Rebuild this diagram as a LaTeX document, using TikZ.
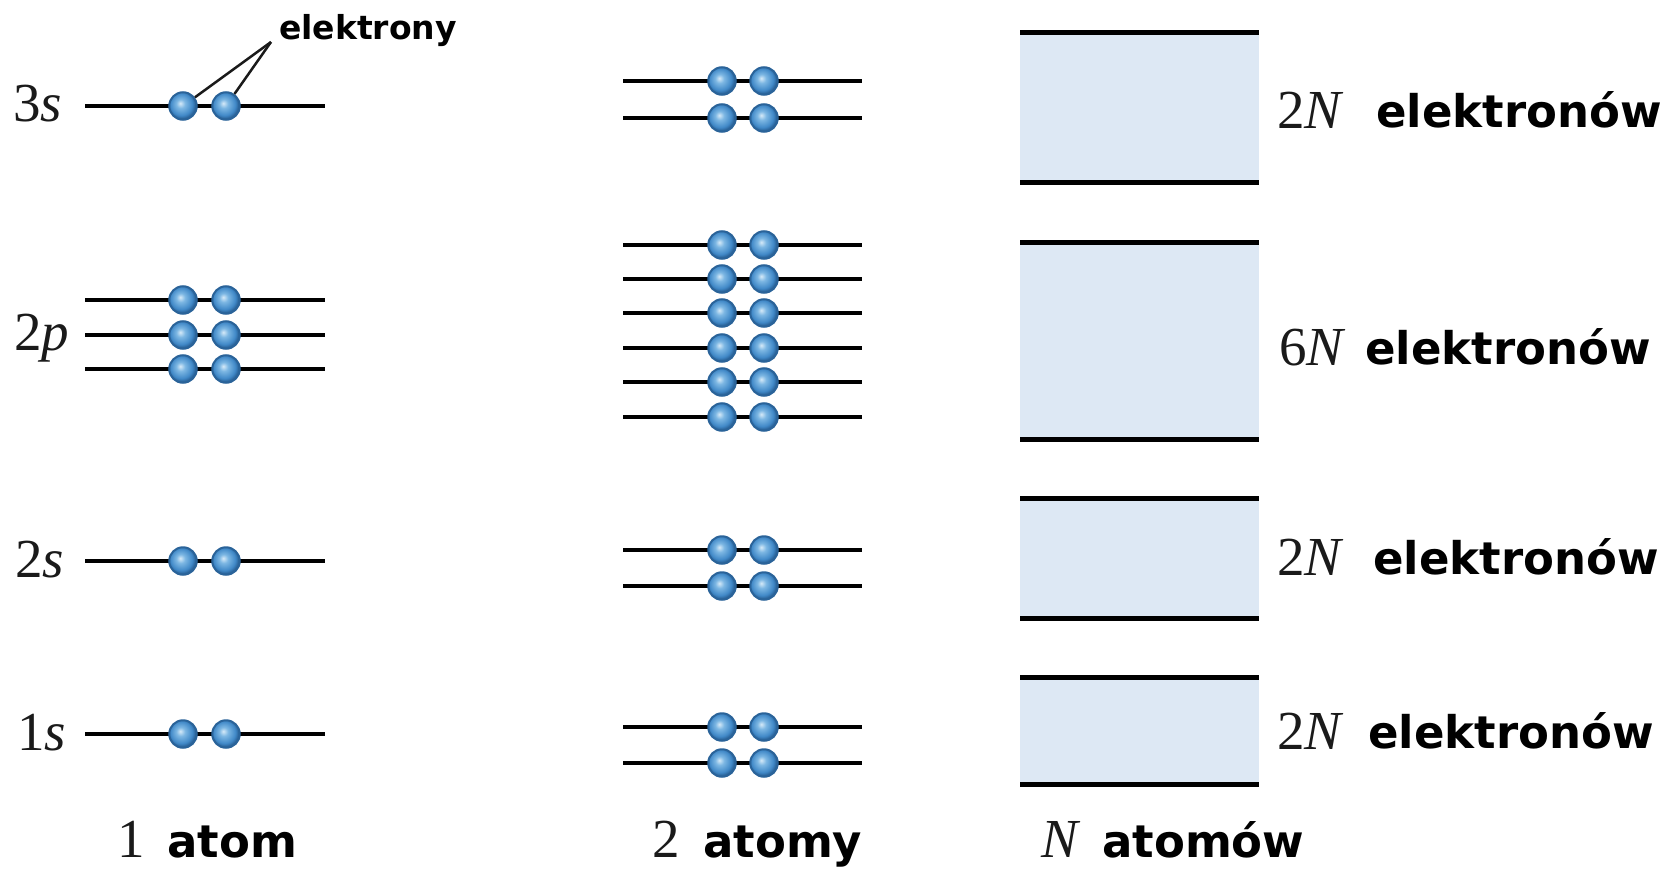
\documentclass[tikz,border=0pt]{standalone}
\usepackage{fontspec}
\setmainfont{Liberation Serif}
\newfontfamily\labfont{DejaVu Sans}
\definecolor{ehi}{HTML}{D6EAF8}
\definecolor{emid}{HTML}{7DB7E3}
\definecolor{eblue}{HTML}{4189C8}
\definecolor{edark}{HTML}{2A6399}
\definecolor{bandfill}{HTML}{DDE8F4}
\definecolor{ink}{HTML}{1A1A1A}
\pgfdeclareradialshading{electronshade}{\pgfpoint{-5bp}{5bp}}{%
  color(0bp)=(ehi); color(8bp)=(emid); color(20bp)=(eblue);
  color(25bp)=(edark); color(50bp)=(edark)}
\begin{document}
\begin{tikzpicture}[x=1pt,y=-1pt,
  level/.style={line width=4.8pt, draw=black},
  bandline/.style={line width=5pt, draw=black},
  electron/.style={circle, minimum size=27.5pt, inner sep=0pt,
    shading=electronshade, draw=edark, line width=2pt},
  pointer/.style={line width=2.5pt, draw=ink},
  serif/.style={font=\fontsize{55}{60}\selectfont, text=ink, inner sep=0pt},
  word/.style={font=\labfont\bfseries\fontsize{45}{50}\selectfont, text=black, inner sep=0pt},
  smallword/.style={font=\labfont\bfseries\fontsize{33}{36}\selectfont, text=black, inner sep=0pt}]
\useasboundingbox (0,0) rectangle (1669,869);

% one atom: single levels with two electrons each
\foreach \y/\n in {106/sthree, 300/pa, 335/pb, 369/pc, 561/stwo, 734/sone}{
  \draw[level] (85,\y) -- (325,\y);
  \node[electron] (one-\n-a) at (183,\y) {};
  \node[electron] (one-\n-b) at (226,\y) {};
}
\node[serif, anchor=base west] (lab3s) at (13,122) {3\textit{s}};
\node[serif, anchor=base west] (lab2p) at (14,350) {2\textit{p}};
\node[serif, anchor=base west] (lab2s) at (15,577) {2\textit{s}};
\node[serif, anchor=base west] (lab1s) at (17,750) {1\textit{s}};

% label pointing at the 3s electrons
\node[smallword, anchor=base west] (elabel) at (279,40) {elektrony};
\coordinate (tip) at (271,42);
\draw[pointer] (tip) -- (one-sthree-a);
\draw[pointer] (tip) -- (one-sthree-b);

% two atoms: each level splits in two
\foreach \y/\n in {81/a, 118/b, 245/c, 279/d, 313/e, 348/f, 382/g, 417/h,
                   550/i, 586/j, 727/k, 763/l}{
  \draw[level] (623,\y) -- (862,\y);
  \node[electron] (two-\n-a) at (722,\y) {};
  \node[electron] (two-\n-b) at (764,\y) {};
}

% N atoms: bands
\foreach \t/\b in {33/183, 242/439, 498/618, 677/784}{
  \fill[bandfill] (1020,\t) rectangle (1259,\b);
  \draw[bandline] (1020,\t) -- (1259,\t);
  \draw[bandline] (1020,\b) -- (1259,\b);
}
\node[serif, anchor=base west] (n1) at (1277,129) {2\textit{N}};
\node[word, anchor=base west] (w1) at (1376,128) {elektronów};
\node[serif, anchor=base west] (n2) at (1279,365) {6\textit{N}};
\node[word, anchor=base west] (w2) at (1365,364) {elektronów};
\node[serif, anchor=base west] (n3) at (1277,575) {2\textit{N}};
\node[word, anchor=base west] (w3) at (1373,574) {elektronów};
\node[serif, anchor=base west] (n4) at (1277,749) {2\textit{N}};
\node[word, anchor=base west] (w4) at (1368,748) {elektronów};

% column captions
\node[serif, anchor=base west] (c1n) at (117,857) {1};
\node[word, anchor=base west] (c1w) at (167,857) {atom};
\node[serif, anchor=base west] (c2n) at (652,857) {2};
\node[word, anchor=base west] (c2w) at (703,857) {atomy};
\node[serif, anchor=base west] (c3n) at (1041,857) {\textit{N}};
\node[word, anchor=base west] (c3w) at (1102,857) {atomów};
\end{tikzpicture}
\end{document}
